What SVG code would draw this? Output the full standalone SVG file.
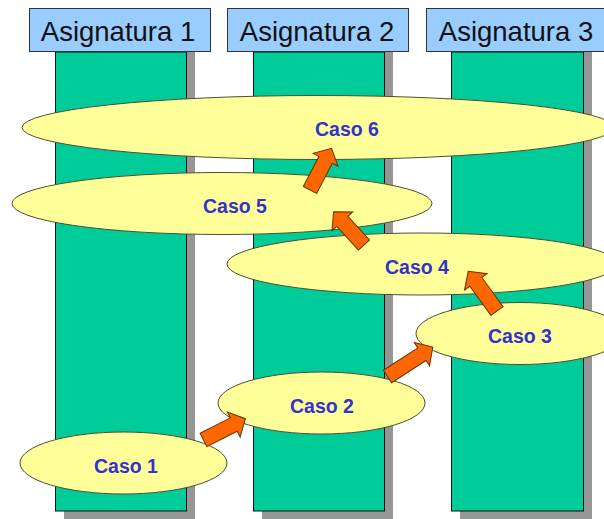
<svg xmlns="http://www.w3.org/2000/svg" width="604" height="519" viewBox="0 0 604 519">
<style>
.hdr{fill:#99CCFF;stroke:#333;stroke-width:1}
.hdrt{font-family:"Liberation Sans",Arial,sans-serif;font-size:27.5px;fill:#111;text-anchor:middle}
.col{fill:#00CC99;stroke:#111;stroke-width:1}
.shd{fill:#969696}
.ell{fill:#FFFF99;stroke:#4d4d33;stroke-width:1}
.lbl{font-family:"Liberation Sans",Arial,sans-serif;font-size:19.5px;font-weight:bold;fill:#3333CC;text-anchor:middle}
.arr{fill:#FF6600;stroke:#663300;stroke-width:1;stroke-linejoin:miter}
</style>
<rect width="604" height="519" fill="#fff"/>
<g id="asignatura1">
<rect class="shd" x="64" y="52" width="131" height="467"/>
<rect class="col" x="55.5" y="52" width="131" height="459"/>
<rect class="hdr" x="29.5" y="8.5" width="181" height="43"/>
<text class="hdrt" x="118" y="41">Asignatura 1</text>
</g>
<g id="asignatura2">
<rect class="shd" x="262" y="52" width="131" height="467"/>
<rect class="col" x="253.5" y="52" width="131" height="459"/>
<rect class="hdr" x="227.5" y="8.5" width="181" height="43"/>
<text class="hdrt" x="317" y="41">Asignatura 2</text>
</g>
<g id="asignatura3">
<rect class="shd" x="460" y="52" width="132" height="467"/>
<rect class="col" x="451.5" y="52" width="132" height="459"/>
<rect class="hdr" x="426.5" y="8.5" width="181" height="43"/>
<text class="hdrt" x="516" y="41">Asignatura 3</text>
</g>
<g id="caso6">
<ellipse class="ell" cx="318" cy="127.5" rx="296" ry="32"/>
<text class="lbl" x="347" y="136">Caso 6</text>
</g>
<g id="caso5">
<ellipse class="ell" cx="222" cy="203.5" rx="210" ry="31"/>
<text class="lbl" x="235" y="213">Caso 5</text>
</g>
<g id="caso4">
<ellipse class="ell" cx="422" cy="264" rx="195" ry="31"/>
<text class="lbl" x="417" y="273.5">Caso 4</text>
</g>
<g id="caso3">
<ellipse class="ell" cx="520" cy="333.5" rx="104" ry="31"/>
<text class="lbl" x="520" y="343">Caso 3</text>
</g>
<g id="caso2">
<ellipse class="ell" cx="321.5" cy="403" rx="103.5" ry="31"/>
<text class="lbl" x="322" y="413">Caso 2</text>
</g>
<g id="caso1">
<ellipse class="ell" cx="123.5" cy="463" rx="103.5" ry="31"/>
<text class="lbl" x="126" y="473">Caso 1</text>
</g>
<g id="connectors">
<path class="arr" transform="translate(203.5,440) rotate(-27)" d="M0,-7.5 H34 V-14 L47,0 L34,14 V7.5 H0 Z"/>
<path class="arr" transform="translate(387.5,376.5) rotate(-33)" d="M0,-7.5 H41 V-14 L54,0 L41,14 V7.5 H0 Z"/>
<path class="arr" transform="translate(497,311) rotate(-126)" d="M0,-7.5 H36 V-14 L49,0 L36,14 V7.5 H0 Z"/>
<path class="arr" transform="translate(364,245) rotate(-132.5)" d="M0,-7.5 H32 V-14 L45,0 L32,14 V7.5 H0 Z"/>
<path class="arr" transform="translate(310,190) rotate(-62.7)" d="M0,-7.5 H34 V-14 L47,0 L34,14 V7.5 H0 Z"/>
</g>
</svg>
